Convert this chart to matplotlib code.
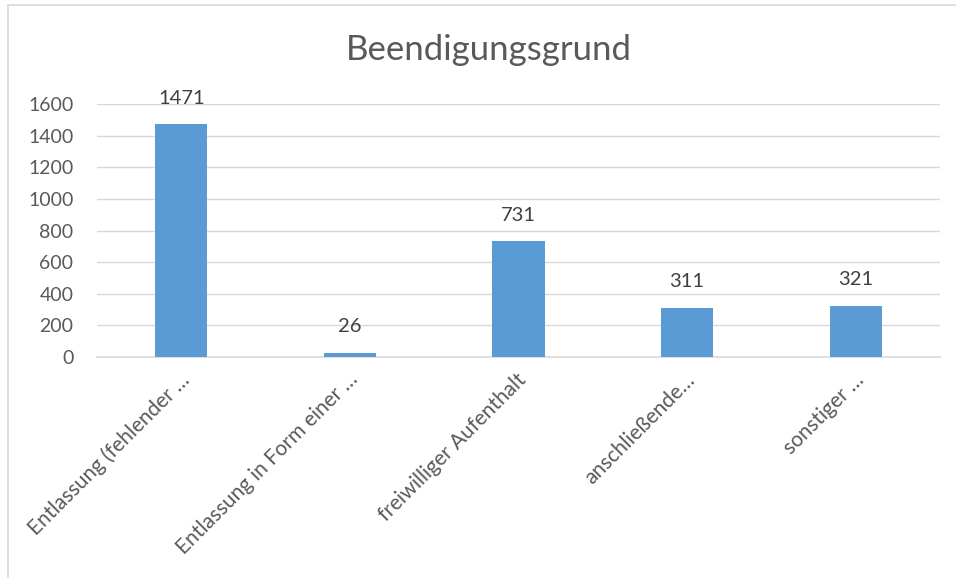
import matplotlib
matplotlib.use("Agg")
import matplotlib.pyplot as plt
from matplotlib.lines import Line2D
import matplotlib.transforms as mtransforms

categories = ["Entlassung (fehlender …", "Entlassung in Form einer …",
              "freiwilliger Aufenthalt", "anschließende…", "sonstiger …"]
values = [1471, 26, 731, 311, 321]
yticks = [0, 200, 400, 600, 800, 1000, 1200, 1400, 1600]
title = "Beendigungsgrund"

plt.rcParams['font.family'] = ['Lato', 'DejaVu Sans']
txt = "#595959"
W, H = 956, 578
fig = plt.figure(figsize=(W/100, H/100), dpi=100)
ax = fig.add_axes([97/W, 1-357/H, (940-97)/W, (357-104)/H])

x = list(range(len(categories)))
bars = ax.bar(x, values, width=0.31, color="#5B9BD5", zorder=3)
ax.set_xlim(-0.5, len(categories)-0.5)
ax.set_ylim(0, 1600)
ax.set_yticks(yticks)
ax.yaxis.grid(True, color="#d9d9d9", linewidth=1, zorder=0)
for s in ["top", "right", "left"]:
    ax.spines[s].set_visible(False)
ax.spines["bottom"].set_color("#d9d9d9")
ax.spines["bottom"].set_linewidth(1.2)
ax.tick_params(axis="both", length=0, colors=txt)
ax.tick_params(axis="y", pad=17, labelsize=14)
ax.set_xticks(x)
ax.set_xticklabels(categories, rotation=45, ha="right", va="top",
                   rotation_mode="anchor", fontsize=15, color=txt)
ax.tick_params(axis="x", pad=9)
offset = mtransforms.ScaledTranslation(-2/100, 0, fig.dpi_scale_trans)
for lab in ax.get_xticklabels():
    lab.set_transform(lab.get_transform() + offset)

for xi, v in zip(x, values):
    ax.annotate(str(v), (xi, v), xytext=(0, 19), textcoords="offset points",
                ha="center", va="center", fontsize=14.5, color="#404040")

fig.text(489/W, 1-50/H, title, ha="center", va="center", fontsize=25, color=txt)

fig.add_artist(Line2D([8/W, 8/W], [0, 1-5/H], color="#d9d9d9", lw=1.2, transform=fig.transFigure))
fig.add_artist(Line2D([8/W, 1], [1-5/H, 1-5/H], color="#d9d9d9", lw=1.2, transform=fig.transFigure))

fig.savefig("out.png", dpi=100)
